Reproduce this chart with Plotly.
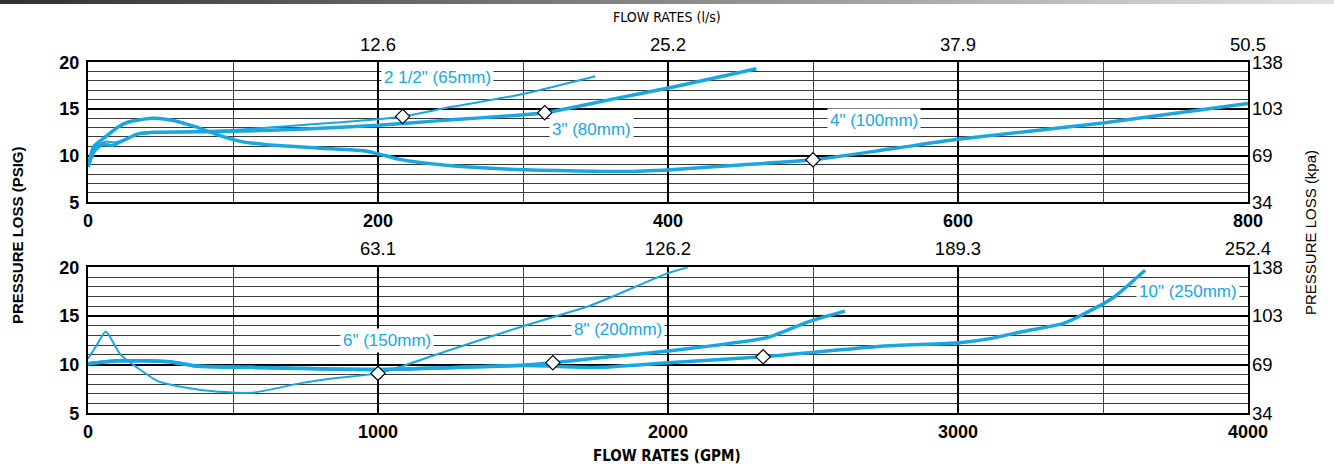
import plotly.graph_objects as go

# ---------------- data ----------------
# Top chart (GPM 0-800)
gpm_65 = [0, 5, 12, 18, 25, 35, 50, 100, 150, 200, 217, 250, 300, 350]
psi_65 = [8.8, 10.9, 11.5, 11.4, 11.7, 12.3, 12.5, 12.75, 13.3, 13.9, 14.2, 15.2, 16.6, 18.5]

gpm_80 = [0, 4, 10, 17, 24, 34, 45, 100, 150, 200, 243, 315, 360, 402, 461]
psi_80 = [8.8, 10.4, 11.2, 11.1, 11.6, 12.3, 12.5, 12.6, 12.85, 13.25, 13.75, 14.6, 16.0, 17.3, 19.3]

gpm_100 = [0, 4, 12, 21, 28, 44, 58, 74, 90, 106, 122, 160, 193, 215, 245, 291, 370, 402, 450, 500, 553, 600, 700, 800]
psi_100 = [8.8, 11.0, 12.0, 13.1, 13.6, 14.0, 13.8, 13.1, 12.2, 11.5, 11.2, 10.8, 10.45, 9.6, 9.0, 8.55, 8.3, 8.5, 9.0, 9.55, 10.7, 11.75, 13.5, 15.6]

# Bottom chart (GPM 0-4000)
gpm_150 = [0, 30, 61, 96, 113, 165, 245, 389, 562, 734, 849, 1000, 1079, 1217, 1505, 1735, 2000, 2069]
psi_150 = [10.6, 12.0, 13.4, 11.8, 11.0, 9.8, 8.25, 7.4, 7.1, 8.1, 8.6, 9.1, 9.8, 11.2, 14.0, 16.1, 19.4, 20.0]

gpm_200 = [0, 107, 280, 372, 567, 1005, 1506, 1603, 1747, 2000, 2345, 2483, 2610]
psi_200 = [10.1, 10.4, 10.3, 9.86, 9.72, 9.5, 9.96, 10.2, 10.65, 11.4, 12.8, 14.4, 15.5]

gpm_250 = [0, 107, 280, 372, 567, 1005, 1506, 1758, 2000, 2328, 2736, 3003, 3116, 3220, 3364, 3427, 3536, 3645]
psi_250 = [10.1, 10.4, 10.3, 9.86, 9.72, 9.5, 9.9, 9.72, 10.2, 10.8, 11.9, 12.25, 12.7, 13.38, 14.24, 15.1, 16.9, 19.7]

# diamond markers (GPM, PSI)
top_marker_gpm = [217, 315, 500]
top_marker_psi = [14.2, 14.6, 9.55]
bot_marker_gpm = [1000, 1603, 2328]
bot_marker_psi = [9.1, 10.2, 10.8]

# tick labels
top_gpm_ticks = [0, 200, 400, 600, 800]
top_ls_ticks = ["12.6", "25.2", "37.9", "50.5"]
bot_gpm_ticks = [0, 1000, 2000, 3000, 4000]
bot_ls_ticks = ["63.1", "126.2", "189.3", "252.4"]
psi_ticks = [5, 10, 15, 20]
kpa_ticks = ["34", "69", "103", "138"]

labels_top = ['2 1/2" (65mm)', '3" (80mm)', '4" (100mm)']
labels_bot = ['6" (150mm)', '8" (200mm)', '10" (250mm)']

# ---------------- styling ----------------
W, H = 1334, 464
BLUE = "#1aa6e0"
FONT = "Liberation Sans, Arial, Helvetica, sans-serif"
NARROW = "Liberation Sans Narrow, Arial Narrow, DejaVu Sans Condensed, Liberation Sans, sans-serif"

def fx(p):
    return p / W

def fy(p):
    return 1 - p / H

X0, X1 = 88, 1248
TOP = (62.3, 202.3)
BOT = (267.3, 413.3)

fig = go.Figure()

def curve(x, y, w, xa, ya):
    fig.add_trace(go.Scatter(x=x, y=y, mode="lines", xaxis=xa, yaxis=ya,
                             line=dict(color=BLUE, width=w, shape="spline", smoothing=0.6),
                             hoverinfo="skip", showlegend=False))

curve(gpm_65, psi_65, 2, "x", "y")
curve(gpm_80, psi_80, 3.5, "x", "y")
curve(gpm_100, psi_100, 3.5, "x", "y")
curve(gpm_150, psi_150, 2, "x2", "y2")
curve(gpm_200, psi_200, 3.5, "x2", "y2")
curve(gpm_250, psi_250, 3.5, "x2", "y2")

for mx, my, xa, ya in [(top_marker_gpm, top_marker_psi, "x", "y"),
                       (bot_marker_gpm, bot_marker_psi, "x2", "y2")]:
    fig.add_trace(go.Scatter(x=mx, y=my, mode="markers", xaxis=xa, yaxis=ya,
                             marker=dict(symbol="diamond", size=11, color="white",
                                         line=dict(color="black", width=1.2)),
                             hoverinfo="skip", showlegend=False))

# empty traces to activate overlay axes
for xa, ya in [("x3", "y3"), ("x4", "y4")]:
    fig.add_trace(go.Scatter(x=[], y=[], xaxis=xa, yaxis=ya, showlegend=False, hoverinfo="skip"))

bold_tick = dict(family=FONT, size=18, color="black", weight="bold")
reg_tick = dict(family=FONT, size=18.5, color="black")

def xax(rng, ticks, major, minor, anchor):
    return dict(domain=[fx(X0), fx(X1)], range=rng, anchor=anchor, automargin=False,
                tickvals=ticks, ticktext=[str(t) for t in ticks],
                tickfont=bold_tick, ticks="", ticklabelstandoff=1,
                showgrid=True, gridcolor="black", gridwidth=2.2,
                tick0=0, dtick=major,
                minor=dict(dtick=minor, tick0=0, showgrid=True, gridcolor="#444", gridwidth=1.3),
                showline=True, linecolor="black", linewidth=2.2, mirror=True,
                zeroline=False, fixedrange=True)

def yax(dom, anchor):
    return dict(domain=[fy(dom[1]), fy(dom[0])], range=[5, 20], anchor=anchor, automargin=False,
                tickvals=psi_ticks, ticktext=[str(t) for t in psi_ticks],
                tickfont=bold_tick, ticks="", ticklabelstandoff=3,
                showgrid=True, gridcolor="black", gridwidth=2.2, dtick=5, tick0=0,
                minor=dict(dtick=1, tick0=0, showgrid=True, gridcolor="#3a3a3a", gridwidth=1),
                showline=True, linecolor="black", linewidth=2.2, mirror=True,
                zeroline=False, fixedrange=True)

def overlay(over, side, anchor, rng, vals, text, standoff):
    return dict(overlaying=over, side=side, anchor=anchor, range=rng, automargin=False,
                tickvals=vals, ticktext=text, tickfont=reg_tick,
                ticks="", ticklabelstandoff=standoff, showgrid=False, zeroline=False,
                showline=False, fixedrange=True)

fig.update_layout(
    template="none",
    width=W, height=H, autosize=False,
    margin=dict(l=0, r=0, t=0, b=0, pad=0),
    paper_bgcolor="white", plot_bgcolor="white",
    font=dict(family=FONT, color="black"),
    showlegend=False,
    xaxis=xax([0, 800], top_gpm_ticks, 200, 100, "y"),
    yaxis=yax(TOP, "x"),
    xaxis2=xax([0, 4000], bot_gpm_ticks, 1000, 500, "y2"),
    yaxis2=yax(BOT, "x2"),
    xaxis3=overlay("x", "top", "y", [0, 800], top_gpm_ticks[1:], top_ls_ticks, 7),
    yaxis3=overlay("y", "right", "x", [5, 20], psi_ticks, kpa_ticks, 3),
    xaxis4=overlay("x2", "top", "y2", [0, 4000], bot_gpm_ticks[1:], bot_ls_ticks, 8),
    yaxis4=overlay("y2", "right", "x2", [5, 20], psi_ticks, kpa_ticks, 3),
)

# curve labels (white boxes)
lab_font = dict(family=FONT, size=17, color=BLUE)
for text, x, y in zip(labels_top, [241, 347, 542], [18.42, 12.82, 13.74]):
    fig.add_annotation(text=text, x=x, y=y, xref="x", yref="y", showarrow=False,
                       font=lab_font, bgcolor="white", borderpad=2)
for text, x, y in zip(labels_bot, [1031, 1829, 3793], [12.53, 13.63, 17.5]):
    fig.add_annotation(text=text, x=x, y=y, xref="x2", yref="y2", showarrow=False,
                       font=lab_font, bgcolor="white", borderpad=2)

# axis titles
common = dict(xref="paper", yref="paper", showarrow=False, xanchor="center", yanchor="middle")
fig.add_annotation(text="FLOW RATES (l/s)", x=fx(667), y=fy(17),
                   font=dict(family=NARROW, size=14, color="black"), **common)
fig.add_annotation(text="FLOW RATES (GPM)", x=fx(667), y=fy(456),
                   font=dict(family=NARROW, size=15, color="black", weight="bold"), **common)
fig.add_annotation(text="PRESSURE LOSS (PSIG)", x=fx(17), y=fy(235), textangle=-90,
                   font=dict(family=FONT, size=15, color="black", weight="bold"), **common)
fig.add_annotation(text="PRESSURE LOSS (kpa)", x=fx(1310), y=fy(233), textangle=-90,
                   font=dict(family=FONT, size=15, color="black"), **common)

# decorative gradient band at the top
N = 60
for i in range(N):
    t = i / (N - 1)
    c = int(50 + t * (225 - 50))
    fig.add_shape(type="rect", xref="paper", yref="paper",
                  x0=i / N, x1=(i + 1) / N + 0.001, y0=fy(4), y1=1,
                  fillcolor=f"rgb({c},{c},{c})", line=dict(width=0), layer="above")

fig.write_html("out.html", config={"displayModeBar": False},
               post_script="document.body.style.margin='0';document.body.style.overflow='hidden';")
